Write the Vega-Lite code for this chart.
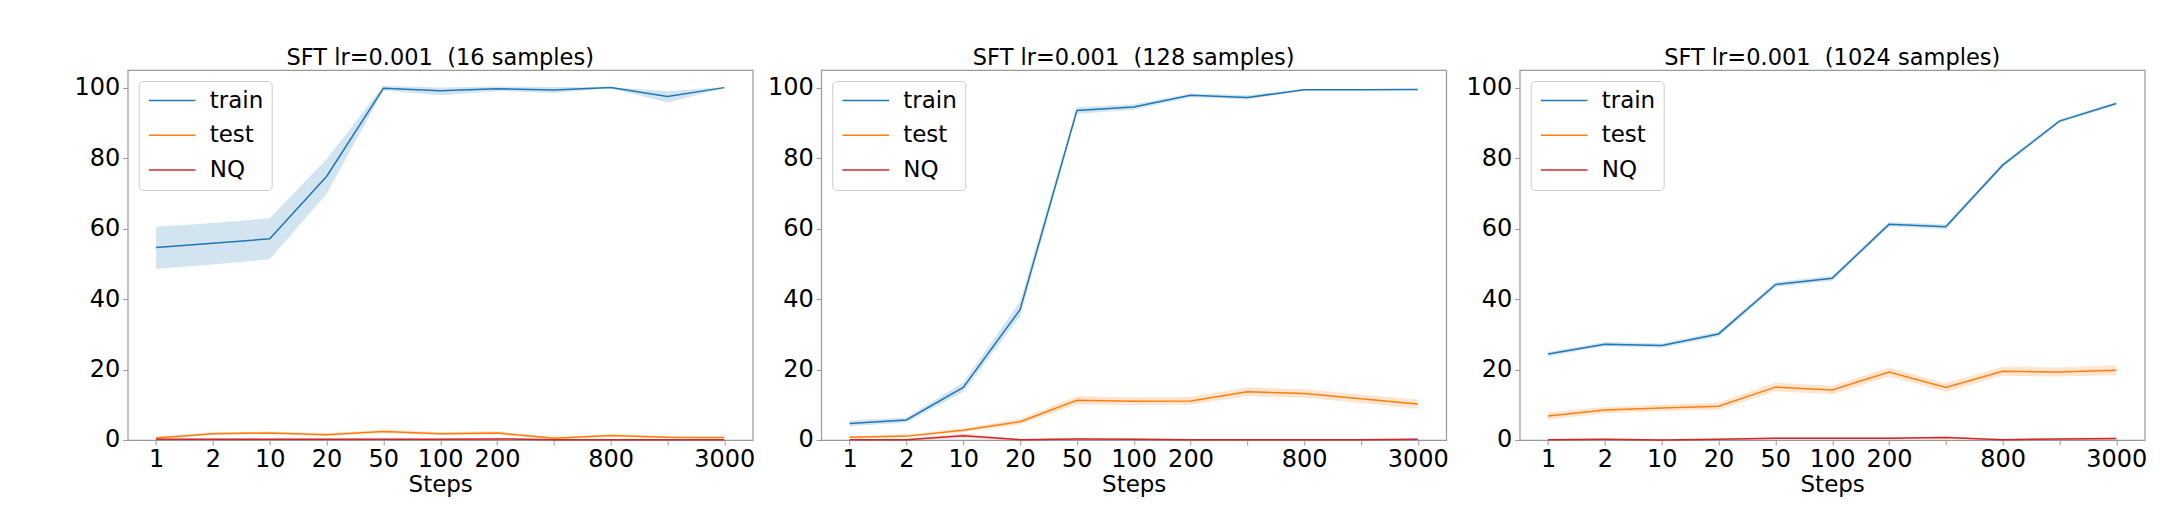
{
  "$schema": "https://vega.github.io/schema/vega-lite/v6.json",
  "background": "white",
  "padding": {"left": 72.7, "top": 46, "right": 5, "bottom": 5},
  "spacing": 10.5,
  "data": {
    "values": [
      {"p": "16", "s": "train", "step": "1", "m": 54.6, "lo": 48.6, "hi": 60.5},
      {"p": "16", "s": "train", "step": "2", "m": 55.8, "lo": 49.8, "hi": 61.6},
      {"p": "16", "s": "train", "step": "10", "m": 57.1, "lo": 51.3, "hi": 62.9},
      {"p": "16", "s": "train", "step": "20", "m": 74.8, "lo": 69.8, "hi": 79.7},
      {"p": "16", "s": "train", "step": "50", "m": 99.8, "lo": 99.2, "hi": 100.5},
      {"p": "16", "s": "train", "step": "100", "m": 99.1, "lo": 97.8, "hi": 100.0},
      {"p": "16", "s": "train", "step": "200", "m": 99.7, "lo": 99.0, "hi": 100.3},
      {"p": "16", "s": "train", "step": "400", "m": 99.3, "lo": 98.5, "hi": 100.2},
      {"p": "16", "s": "train", "step": "800", "m": 100.0, "lo": 99.8, "hi": 100.2},
      {"p": "16", "s": "train", "step": "1600", "m": 97.5, "lo": 95.8, "hi": 99.0},
      {"p": "16", "s": "train", "step": "3000", "m": 100.0, "lo": 99.8, "hi": 100.2},
      {"p": "16", "s": "test", "step": "1", "m": 0.6, "lo": 0.2, "hi": 1.0},
      {"p": "16", "s": "test", "step": "2", "m": 1.8, "lo": 1.4, "hi": 2.2},
      {"p": "16", "s": "test", "step": "10", "m": 2.0, "lo": 1.6, "hi": 2.4},
      {"p": "16", "s": "test", "step": "20", "m": 1.5, "lo": 1.1, "hi": 1.9},
      {"p": "16", "s": "test", "step": "50", "m": 2.4, "lo": 1.9, "hi": 2.9},
      {"p": "16", "s": "test", "step": "100", "m": 1.8, "lo": 1.4, "hi": 2.2},
      {"p": "16", "s": "test", "step": "200", "m": 2.0, "lo": 1.5, "hi": 2.5},
      {"p": "16", "s": "test", "step": "400", "m": 0.5, "lo": 0.2, "hi": 0.8},
      {"p": "16", "s": "test", "step": "800", "m": 1.3, "lo": 0.9, "hi": 1.7},
      {"p": "16", "s": "test", "step": "1600", "m": 0.8, "lo": 0.5, "hi": 1.1},
      {"p": "16", "s": "test", "step": "3000", "m": 0.7, "lo": 0.4, "hi": 1.0},
      {"p": "16", "s": "NQ", "step": "1", "m": 0.2, "lo": 0.0, "hi": 0.4},
      {"p": "16", "s": "NQ", "step": "2", "m": 0.2, "lo": 0.0, "hi": 0.4},
      {"p": "16", "s": "NQ", "step": "10", "m": 0.2, "lo": 0.0, "hi": 0.4},
      {"p": "16", "s": "NQ", "step": "20", "m": 0.2, "lo": 0.0, "hi": 0.4},
      {"p": "16", "s": "NQ", "step": "50", "m": 0.2, "lo": 0.0, "hi": 0.4},
      {"p": "16", "s": "NQ", "step": "100", "m": 0.2, "lo": 0.0, "hi": 0.4},
      {"p": "16", "s": "NQ", "step": "200", "m": 0.3, "lo": 0.0, "hi": 0.6},
      {"p": "16", "s": "NQ", "step": "400", "m": 0.1, "lo": 0.0, "hi": 0.3},
      {"p": "16", "s": "NQ", "step": "800", "m": 0.1, "lo": 0.0, "hi": 0.3},
      {"p": "16", "s": "NQ", "step": "1600", "m": 0.1, "lo": 0.0, "hi": 0.3},
      {"p": "16", "s": "NQ", "step": "3000", "m": 0.1, "lo": 0.0, "hi": 0.3},

      {"p": "128", "s": "train", "step": "1", "m": 4.7, "lo": 3.9, "hi": 5.5},
      {"p": "128", "s": "train", "step": "2", "m": 5.7, "lo": 5.0, "hi": 6.4},
      {"p": "128", "s": "train", "step": "10", "m": 14.9, "lo": 13.6, "hi": 16.3},
      {"p": "128", "s": "train", "step": "20", "m": 37.0, "lo": 35.2, "hi": 39.3},
      {"p": "128", "s": "train", "step": "50", "m": 93.5, "lo": 92.6, "hi": 94.4},
      {"p": "128", "s": "train", "step": "100", "m": 94.5, "lo": 93.7, "hi": 95.3},
      {"p": "128", "s": "train", "step": "200", "m": 97.8, "lo": 97.3, "hi": 98.3},
      {"p": "128", "s": "train", "step": "400", "m": 97.2, "lo": 96.6, "hi": 97.8},
      {"p": "128", "s": "train", "step": "800", "m": 99.4, "lo": 99.2, "hi": 99.6},
      {"p": "128", "s": "train", "step": "1600", "m": 99.4, "lo": 99.2, "hi": 99.6},
      {"p": "128", "s": "train", "step": "3000", "m": 99.5, "lo": 99.3, "hi": 99.7},
      {"p": "128", "s": "test", "step": "1", "m": 0.75, "lo": 0.4, "hi": 1.1},
      {"p": "128", "s": "test", "step": "2", "m": 1.1, "lo": 0.7, "hi": 1.5},
      {"p": "128", "s": "test", "step": "10", "m": 2.8, "lo": 2.3, "hi": 3.3},
      {"p": "128", "s": "test", "step": "20", "m": 5.2, "lo": 4.4, "hi": 6.0},
      {"p": "128", "s": "test", "step": "50", "m": 11.3, "lo": 10.1, "hi": 12.5},
      {"p": "128", "s": "test", "step": "100", "m": 11.0, "lo": 9.9, "hi": 12.1},
      {"p": "128", "s": "test", "step": "200", "m": 11.1, "lo": 10.0, "hi": 12.2},
      {"p": "128", "s": "test", "step": "400", "m": 13.7, "lo": 12.4, "hi": 15.0},
      {"p": "128", "s": "test", "step": "800", "m": 13.2, "lo": 12.0, "hi": 14.4},
      {"p": "128", "s": "test", "step": "1600", "m": 11.7, "lo": 10.5, "hi": 12.9},
      {"p": "128", "s": "test", "step": "3000", "m": 10.2, "lo": 8.9, "hi": 11.5},
      {"p": "128", "s": "NQ", "step": "1", "m": 0.1, "lo": 0.0, "hi": 0.3},
      {"p": "128", "s": "NQ", "step": "2", "m": 0.1, "lo": 0.0, "hi": 0.3},
      {"p": "128", "s": "NQ", "step": "10", "m": 1.2, "lo": 0.6, "hi": 1.8},
      {"p": "128", "s": "NQ", "step": "20", "m": 0.1, "lo": 0.0, "hi": 0.3},
      {"p": "128", "s": "NQ", "step": "50", "m": 0.3, "lo": 0.0, "hi": 0.6},
      {"p": "128", "s": "NQ", "step": "100", "m": 0.2, "lo": 0.0, "hi": 0.5},
      {"p": "128", "s": "NQ", "step": "200", "m": 0.1, "lo": 0.0, "hi": 0.3},
      {"p": "128", "s": "NQ", "step": "400", "m": 0.1, "lo": 0.0, "hi": 0.3},
      {"p": "128", "s": "NQ", "step": "800", "m": 0.1, "lo": 0.0, "hi": 0.3},
      {"p": "128", "s": "NQ", "step": "1600", "m": 0.1, "lo": 0.0, "hi": 0.3},
      {"p": "128", "s": "NQ", "step": "3000", "m": 0.2, "lo": 0.0, "hi": 0.4},

      {"p": "1024", "s": "train", "step": "1", "m": 24.4, "lo": 23.8, "hi": 25.0},
      {"p": "1024", "s": "train", "step": "2", "m": 27.2, "lo": 26.6, "hi": 27.8},
      {"p": "1024", "s": "train", "step": "10", "m": 26.8, "lo": 26.2, "hi": 27.4},
      {"p": "1024", "s": "train", "step": "20", "m": 30.1, "lo": 29.4, "hi": 30.8},
      {"p": "1024", "s": "train", "step": "50", "m": 44.1, "lo": 43.4, "hi": 44.8},
      {"p": "1024", "s": "train", "step": "100", "m": 45.9, "lo": 45.2, "hi": 46.6},
      {"p": "1024", "s": "train", "step": "200", "m": 61.2, "lo": 60.6, "hi": 61.8},
      {"p": "1024", "s": "train", "step": "400", "m": 60.5, "lo": 59.8, "hi": 61.2},
      {"p": "1024", "s": "train", "step": "800", "m": 78.0, "lo": 77.4, "hi": 78.6},
      {"p": "1024", "s": "train", "step": "1600", "m": 90.5, "lo": 90.0, "hi": 91.0},
      {"p": "1024", "s": "train", "step": "3000", "m": 95.5, "lo": 95.1, "hi": 95.9},
      {"p": "1024", "s": "test", "step": "1", "m": 6.8, "lo": 5.8, "hi": 7.8},
      {"p": "1024", "s": "test", "step": "2", "m": 8.5, "lo": 7.6, "hi": 9.4},
      {"p": "1024", "s": "test", "step": "10", "m": 9.1, "lo": 8.2, "hi": 10.0},
      {"p": "1024", "s": "test", "step": "20", "m": 9.6, "lo": 8.6, "hi": 10.6},
      {"p": "1024", "s": "test", "step": "50", "m": 15.0, "lo": 13.8, "hi": 16.3},
      {"p": "1024", "s": "test", "step": "100", "m": 14.2, "lo": 13.0, "hi": 15.4},
      {"p": "1024", "s": "test", "step": "200", "m": 19.3, "lo": 18.0, "hi": 20.6},
      {"p": "1024", "s": "test", "step": "400", "m": 14.9, "lo": 13.7, "hi": 16.1},
      {"p": "1024", "s": "test", "step": "800", "m": 19.5, "lo": 18.2, "hi": 20.8},
      {"p": "1024", "s": "test", "step": "1600", "m": 19.3, "lo": 18.0, "hi": 20.6},
      {"p": "1024", "s": "test", "step": "3000", "m": 19.8, "lo": 18.4, "hi": 21.2},
      {"p": "1024", "s": "NQ", "step": "1", "m": 0.1, "lo": 0.0, "hi": 0.3},
      {"p": "1024", "s": "NQ", "step": "2", "m": 0.2, "lo": 0.0, "hi": 0.4},
      {"p": "1024", "s": "NQ", "step": "10", "m": 0.0, "lo": 0.0, "hi": 0.2},
      {"p": "1024", "s": "NQ", "step": "20", "m": 0.2, "lo": 0.0, "hi": 0.4},
      {"p": "1024", "s": "NQ", "step": "50", "m": 0.5, "lo": 0.2, "hi": 0.8},
      {"p": "1024", "s": "NQ", "step": "100", "m": 0.5, "lo": 0.2, "hi": 0.8},
      {"p": "1024", "s": "NQ", "step": "200", "m": 0.5, "lo": 0.2, "hi": 0.8},
      {"p": "1024", "s": "NQ", "step": "400", "m": 0.7, "lo": 0.4, "hi": 1.0},
      {"p": "1024", "s": "NQ", "step": "800", "m": 0.1, "lo": 0.0, "hi": 0.3},
      {"p": "1024", "s": "NQ", "step": "1600", "m": 0.3, "lo": 0.0, "hi": 0.6},
      {"p": "1024", "s": "NQ", "step": "3000", "m": 0.4, "lo": 0.1, "hi": 0.7}
    ]
  },
  "hconcat": [
    {
      "title": "SFT lr=0.001\u00a0 (16 samples)",
      "width": 625,
      "height": 370,
      "transform": [{"filter": "datum.p == '16'"}],
      "encoding": {
        "x": {"field": "step", "type": "ordinal", "sort": null,
              "scale": {"type": "point", "padding": 0.5, "domain": ["1", "2", "10", "20", "50", "100", "200", "400", "800", "1600", "3000"]},
              "axis": {"title": "Steps", "labelAngle": 0, "labelExpr": "datum.value == '400' || datum.value == '1600' ? '' : datum.value"}}
      },
      "layer": [
        {
          "mark": {"type": "area", "opacity": 0.2},
          "encoding": {
            "y": {"field": "lo", "type": "quantitative", "scale": {"domain": [0, 105], "nice": false}, "axis": {"title": null, "values": [0, 20, 40, 60, 80, 100], "minExtent": 54, "maxExtent": 54}},
            "y2": {"field": "hi"},
            "fill": {"field": "s", "type": "nominal", "scale": {"domain": ["NQ", "test", "train"], "range": ["#d62728", "#ff7f0e", "#1f77b4"]}, "legend": null}
          }
        },
        {
          "mark": {"type": "line", "strokeWidth": 1.5},
          "encoding": {
            "y": {"field": "m", "type": "quantitative"},
            "stroke": {"field": "s", "type": "nominal", "scale": {"domain": ["train", "test", "NQ"], "range": ["#1f77b4", "#ff7f0e", "#d62728"]}, "legend": {"title": null}}
          }
        }
      ]
    },
    {
      "title": "SFT lr=0.001\u00a0 (128 samples)",
      "width": 625,
      "height": 370,
      "transform": [{"filter": "datum.p == '128'"}],
      "encoding": {
        "x": {"field": "step", "type": "ordinal", "sort": null,
              "scale": {"type": "point", "padding": 0.5, "domain": ["1", "2", "10", "20", "50", "100", "200", "400", "800", "1600", "3000"]},
              "axis": {"title": "Steps", "labelAngle": 0, "labelExpr": "datum.value == '400' || datum.value == '1600' ? '' : datum.value"}}
      },
      "layer": [
        {
          "mark": {"type": "area", "opacity": 0.2},
          "encoding": {
            "y": {"field": "lo", "type": "quantitative", "scale": {"domain": [0, 105], "nice": false}, "axis": {"title": null, "values": [0, 20, 40, 60, 80, 100], "minExtent": 54, "maxExtent": 54}},
            "y2": {"field": "hi"},
            "fill": {"field": "s", "type": "nominal", "scale": {"domain": ["NQ", "test", "train"], "range": ["#d62728", "#ff7f0e", "#1f77b4"]}, "legend": null}
          }
        },
        {
          "mark": {"type": "line", "strokeWidth": 1.5},
          "encoding": {
            "y": {"field": "m", "type": "quantitative"},
            "stroke": {"field": "s", "type": "nominal", "scale": {"domain": ["train", "test", "NQ"], "range": ["#1f77b4", "#ff7f0e", "#d62728"]}, "legend": {"title": null}}
          }
        }
      ]
    },
    {
      "title": "SFT lr=0.001\u00a0 (1024 samples)",
      "width": 625,
      "height": 370,
      "transform": [{"filter": "datum.p == '1024'"}],
      "encoding": {
        "x": {"field": "step", "type": "ordinal", "sort": null,
              "scale": {"type": "point", "padding": 0.5, "domain": ["1", "2", "10", "20", "50", "100", "200", "400", "800", "1600", "3000"]},
              "axis": {"title": "Steps", "labelAngle": 0, "labelExpr": "datum.value == '400' || datum.value == '1600' ? '' : datum.value"}}
      },
      "layer": [
        {
          "mark": {"type": "area", "opacity": 0.2},
          "encoding": {
            "y": {"field": "lo", "type": "quantitative", "scale": {"domain": [0, 105], "nice": false}, "axis": {"title": null, "values": [0, 20, 40, 60, 80, 100], "minExtent": 59.4, "maxExtent": 59.4}},
            "y2": {"field": "hi"},
            "fill": {"field": "s", "type": "nominal", "scale": {"domain": ["NQ", "test", "train"], "range": ["#d62728", "#ff7f0e", "#1f77b4"]}, "legend": null}
          }
        },
        {
          "mark": {"type": "line", "strokeWidth": 1.5},
          "encoding": {
            "y": {"field": "m", "type": "quantitative"},
            "stroke": {"field": "s", "type": "nominal", "scale": {"domain": ["train", "test", "NQ"], "range": ["#1f77b4", "#ff7f0e", "#d62728"]}, "legend": {"title": null}}
          }
        }
      ]
    }
  ],
  "resolve": {
    "scale": {"stroke": "independent", "fill": "independent", "y": "independent", "x": "independent"},
    "legend": {"stroke": "independent", "fill": "independent"}
  },
  "config": {
    "font": "DejaVu Sans",
    "view": {"stroke": "#999999", "strokeWidth": 1.2},
    "axis": {
      "grid": false,
      "domain": false,
      "tickColor": "#999999",
      "tickSize": 5,
      "labelFontSize": 24,
      "labelColor": "black",
      "labelPadding": 3,
      "titleFontSize": 23,
      "titleFontWeight": "normal",
      "titleColor": "black",
      "titlePadding": 2
    },
    "title": {"fontSize": 22.5, "fontWeight": "normal", "color": "black", "offset": 0.5},
    "legend": {
      "orient": "top-left",
      "offset": 11,
      "padding": 8,
      "strokeColor": "#cccccc",
      "fillColor": "white",
      "cornerRadius": 4,
      "symbolType": "M-1,0H4",
      "symbolSize": 349,
      "symbolStrokeWidth": 1.5,
      "labelFontSize": 23,
      "labelColor": "black",
      "labelOffset": 40,
      "rowPadding": 10.7
    }
  }
}
